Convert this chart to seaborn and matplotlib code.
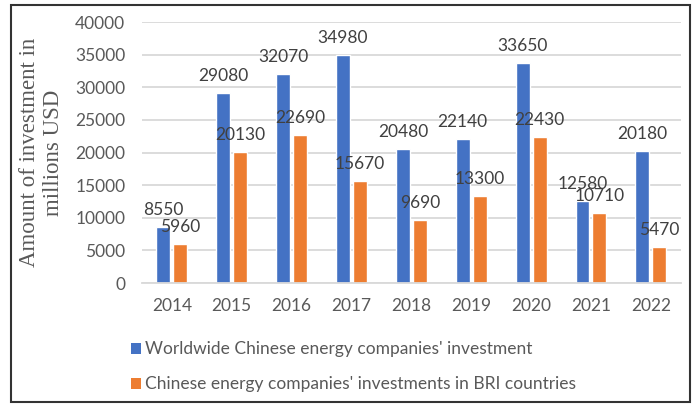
import matplotlib
matplotlib.use("Agg")
import matplotlib.pyplot as plt
from matplotlib.patches import Patch, Rectangle
import seaborn as sns
import pandas as pd

years = ["2014", "2015", "2016", "2017", "2018", "2019", "2020", "2021", "2022"]
worldwide = [8550, 29080, 32070, 34980, 20480, 22140, 33650, 12580, 20180]
bri = [5960, 20130, 22690, 15670, 9690, 13300, 22430, 10710, 5470]
series_names = [
    "Worldwide Chinese energy companies' investment",
    "Chinese energy companies' investments in BRI countries",
]
colors = ["#4472C4", "#ED7D31"]
y_ticks = [0, 5000, 10000, 15000, 20000, 25000, 30000, 35000, 40000]

df = pd.DataFrame({
    "year": years * 2,
    "value": worldwide + bri,
    "series": [series_names[0]] * len(years) + [series_names[1]] * len(years),
})

sns.set_theme(style="white")
plt.rcParams["font.family"] = ["Lato", "DejaVu Sans"]

label_color = "#595959"
fs = 12.5

fig = plt.figure(figsize=(6.97, 4.05), dpi=100)
ax = fig.add_axes([0.2037, 0.3012, 0.773, 0.6444])

sns.barplot(data=df, x="year", y="value", hue="series", palette=colors,
            width=0.567, gap=0.18, legend=False, ax=ax, saturation=1)

ax.set_ylim(0, 40000)
ax.set_yticks(y_ticks)
ax.set_yticklabels([str(t) for t in y_ticks])
ax.set_xlim(-0.5, len(years) - 0.5)
ax.yaxis.grid(True, color="#D9D9D9", linewidth=1.3)
ax.set_axisbelow(True)
for s in ["top", "right", "left"]:
    ax.spines[s].set_visible(False)
ax.spines["bottom"].set_color("#D9D9D9")
ax.spines["bottom"].set_linewidth(1.3)
ax.tick_params(axis="both", length=0, labelsize=fs, labelcolor=label_color)
ax.tick_params(axis="y", pad=12)
ax.tick_params(axis="x", pad=11)
ax.set_xlabel("")
ax.set_ylabel("Amount of investment in\nmillions USD", family="Liberation Serif",
              fontsize=16.5, color=label_color, linespacing=1.2, labelpad=8)

for cont, vals in zip(ax.containers, [worldwide, bri]):
    ax.bar_label(cont, labels=[str(v) for v in vals], padding=6.5,
                 fontsize=fs, color="#404040")

handles = [Patch(facecolor=c, edgecolor="none") for c in colors]
fig.legend(handles, series_names, loc="upper left",
           bbox_to_anchor=(0.175, 0.179), frameon=False,
           fontsize=fs, labelcolor=label_color, handlelength=0.6, handleheight=0.6,
           handletextpad=0.25, labelspacing=1.1, borderpad=0)

fig.patches.append(Rectangle((11 / 697, 3 / 405), 679 / 697, 397 / 405,
                             transform=fig.transFigure, fill=False,
                             edgecolor="#333333", linewidth=1.5))

fig.savefig("out.png", dpi=100)
